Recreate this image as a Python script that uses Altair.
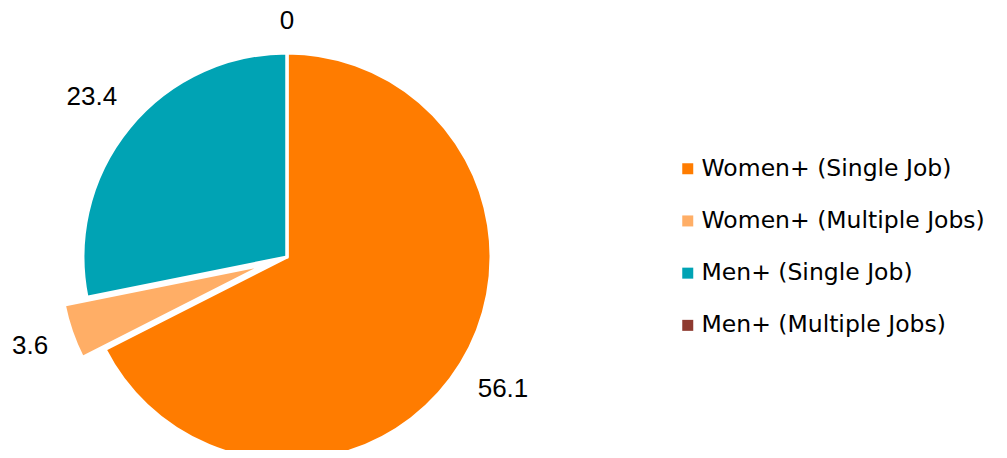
import math
import altair as alt
import pandas as pd

# ---- data ----
categories = ["Women+ (Single Job)", "Women+ (Multiple Jobs)", "Men+ (Single Job)", "Men+ (Multiple Jobs)"]
values = [56.1, 3.6, 23.4, 0.0]
labels = ["56.1", "3.6", "23.4", "0"]
colors = ["#FF7C00", "#FFAE66", "#00A3B4", "#8E3A30"]
exploded = "Women+ (Multiple Jobs)"

# ---- layout / style ----
W, H = 991, 442
CX, CY = 279, 249
R = 204
EXPLODE = 24
GAP = 23
FS_LABEL = 26
FONT = "Liberation Sans"
LEGEND_FONT = "DejaVu Sans"

df = pd.DataFrame({
    "category": categories,
    "value": values,
    "label": labels,
    "order": list(range(len(categories))),
})

total = sum(values)
idx = categories.index(exploded)
mid = 2 * math.pi * (sum(values[:idx]) + values[idx] / 2) / total
ECX = CX + EXPLODE * math.sin(mid)
ECY = CY - EXPLODE * math.cos(mid)

color = alt.Color(
    "category:N",
    scale=alt.Scale(domain=categories, range=colors),
    sort=categories,
    legend=alt.Legend(
        title=None, orient="none", legendX=668, legendY=149,
        symbolType="square", symbolSize=121, symbolStrokeWidth=0,
        labelFontSize=23.5, labelFont=LEGEND_FONT, labelColor="#000000",
        labelOffset=2, rowPadding=27.2, padding=0, labelLimit=400,
    ),
)
order = alt.Order("order:Q", sort="ascending")
theta = alt.Theta("value:Q", stack=True)
is_exp = f"datum.category == '{exploded}'"

base = (
    alt.Chart(df)
    .transform_joinaggregate(total="sum(value)")
    .transform_window(cum="sum(value)", sort=[alt.SortField("order")], frame=[None, 0])
    .transform_calculate(
        mid="2*PI*(datum.cum - datum.value/2)/datum.total",
    )
    .transform_calculate(
        lr=f"{R + GAP} + abs(sin(datum.mid))*length(datum.label)*{0.245 * FS_LABEL} + abs(cos(datum.mid))*{0.34 * FS_LABEL}"
    )
)

arc_main = base.mark_arc(outerRadius=R, stroke="white", strokeWidth=3).encode(
    theta=theta, color=color, order=order,
    x=alt.value(CX), y=alt.value(CY),
    opacity=alt.condition(is_exp, alt.value(0), alt.value(1)),
)
arc_exp = base.mark_arc(outerRadius=R, stroke="white", strokeWidth=3).encode(
    theta=theta, color=color, order=order,
    x=alt.value(ECX), y=alt.value(ECY),
    opacity=alt.condition(is_exp, alt.value(1), alt.value(0)),
)
txt_main = base.mark_text(fontSize=FS_LABEL, font=FONT, color="#000000").encode(
    theta=alt.Theta("mid:Q", scale=None),
    radius=alt.Radius("lr:Q", scale=None),
    text="label:N",
    x=alt.value(CX), y=alt.value(CY),
    opacity=alt.condition(is_exp, alt.value(0), alt.value(1)),
)
txt_exp = base.mark_text(fontSize=FS_LABEL, font=FONT, color="#000000").encode(
    theta=alt.Theta("mid:Q", scale=None),
    radius=alt.Radius("lr:Q", scale=None),
    text="label:N",
    x=alt.value(ECX), y=alt.value(ECY),
    opacity=alt.condition(is_exp, alt.value(1), alt.value(0)),
)

chart = (
    alt.layer(arc_main, arc_exp, txt_main, txt_exp)
    .properties(width=W, height=H, autosize=alt.AutoSizeParams(type="none"), padding=0)
    .configure_view(stroke=None)
)

chart.save("out.html", embed_options={"renderer": "svg", "actions": False})
